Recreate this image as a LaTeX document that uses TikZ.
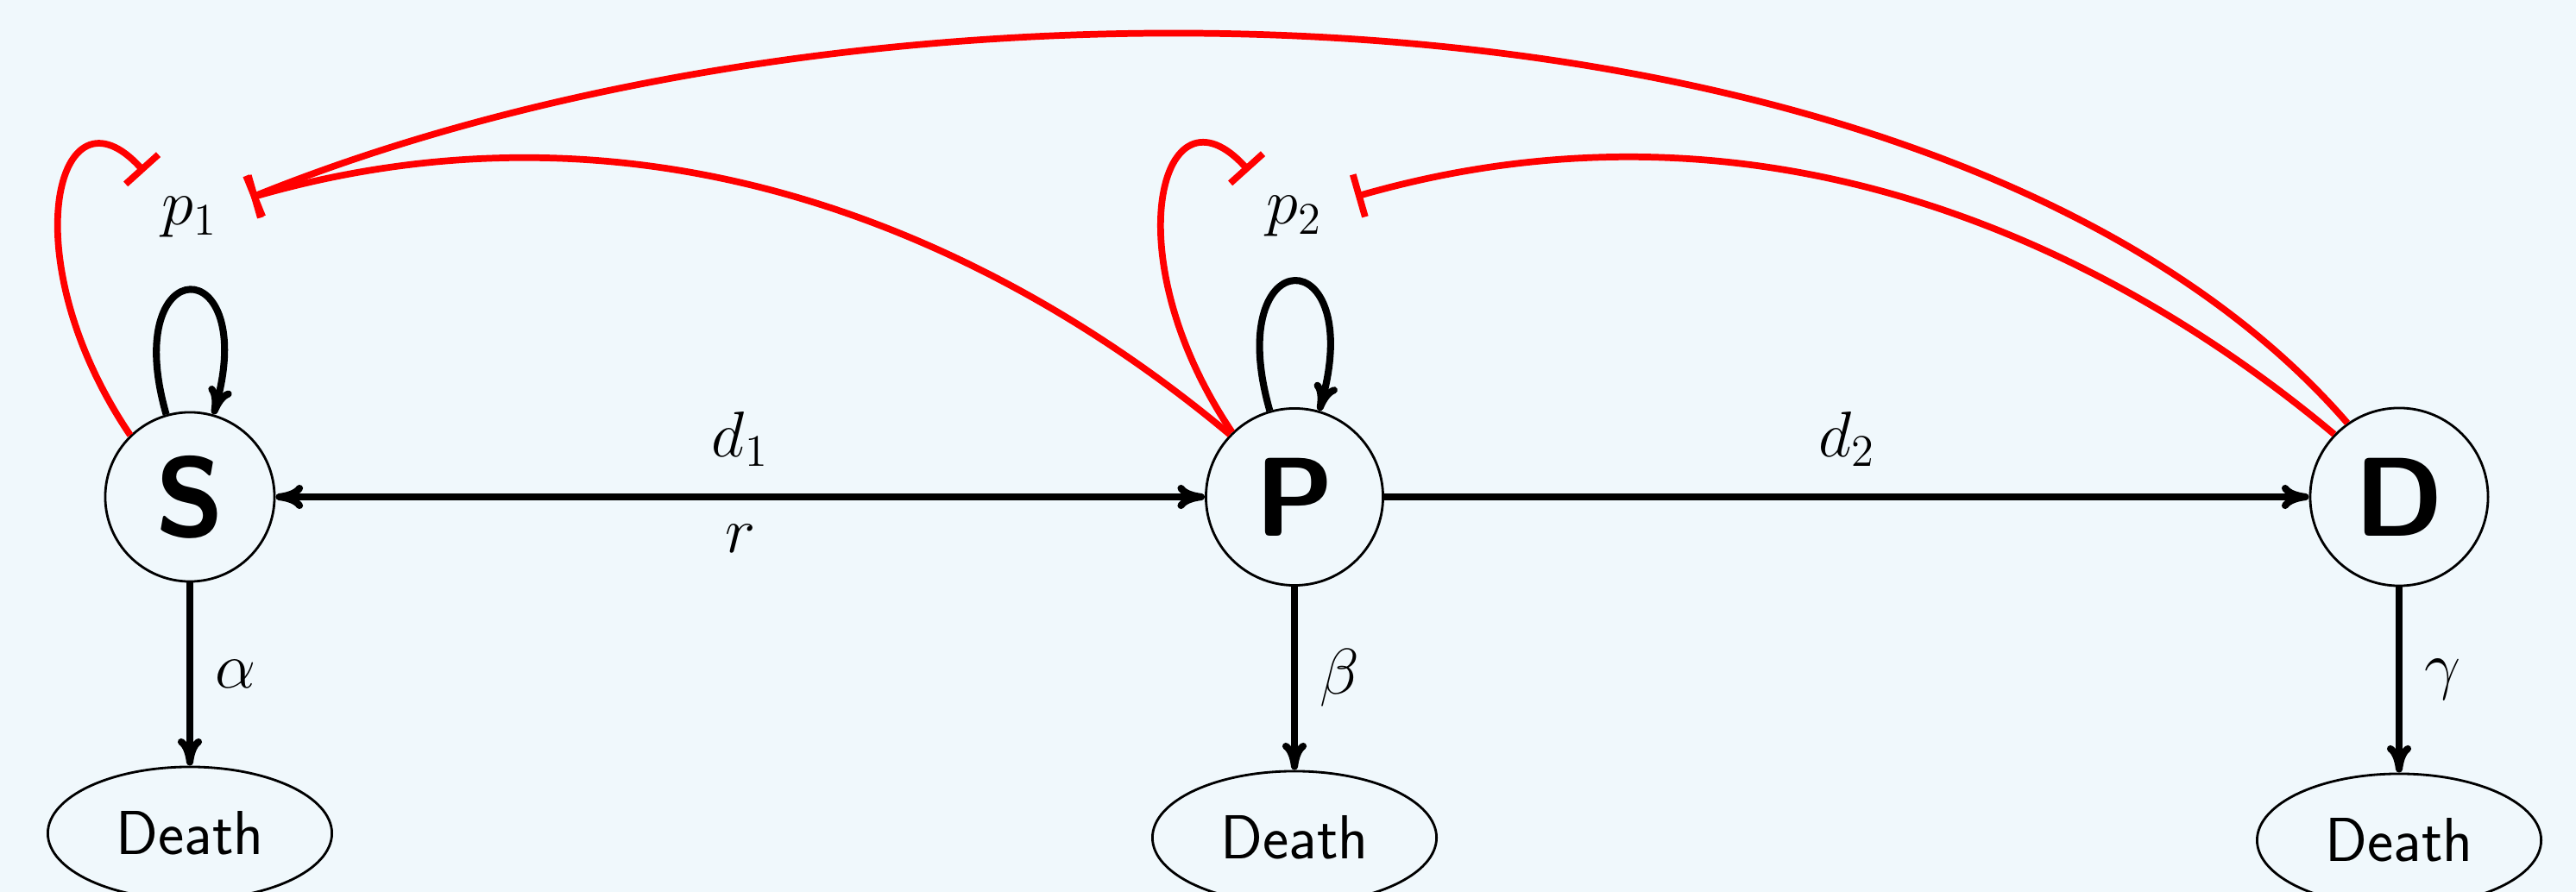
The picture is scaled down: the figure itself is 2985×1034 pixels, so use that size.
\RequirePackage{fix-cm}
\documentclass[tikz,border=0pt]{standalone}
\usetikzlibrary{arrows.meta,shapes.geometric}
\definecolor{bgc}{RGB}{240,248,252}
\definecolor{inh}{RGB}{255,0,0}
\begin{document}
\begin{tikzpicture}[x=0.01cm,y=-0.01cm,
  every node/.style={font=\fontsize{21.3}{25.6}\selectfont},
  state/.style={circle,draw,line width=0.8pt,inner sep=0pt,font=\fontsize{37}{44}\selectfont\sffamily\bfseries},
  sink/.style={ellipse,draw,line width=0.8pt,minimum width=3.29cm,minimum height=1.54cm,inner sep=0pt,font=\fontsize{20.5}{24}\selectfont\sffamily},
  pnode/.style={circle,minimum size=1.48cm,inner sep=0pt},
  edge/.style={line width=2.3pt},
  inhib/.style={line width=2.2pt,draw=inh,-{Bar[width=14.5pt]}},
  >={Computer Modern Rightarrow[length=9pt,width=8pt]}
]
\useasboundingbox (0,0) rectangle (2985,1034);
\fill[bgc] (0,0) rectangle (2985,1034);

% main states
\node[state,minimum size=1.96cm] (S) at (220,576) {S};
\node[state,minimum size=2.05cm] (P) at (1500,576) {P};
\node[state,minimum size=2.06cm] (D) at (2780,576) {D};

% parameter nodes
\node[pnode] (p1) at (220,252) {$p_1$};
\node[pnode] (p2) at (1500,251) {$p_2$};

% death nodes
\node[sink] (dS) at (220,966) {Death};
\node[sink] (dP) at (1500,971) {Death};
\node[sink] (dD) at (2780,974) {Death};

% black transitions
\draw[edge,<->] (S) -- node[above=5.5pt]{$d_1$} node[below=4.8pt]{$r$} (P);
\draw[edge,->] (P) -- node[above=5.5pt]{$d_2$} (D);
\draw[edge,->] (S) -- node[right=4pt]{$\alpha$} (dS);
\draw[edge,->] (P) -- node[right=4pt]{$\beta$} (dP);
\draw[edge,->] (D) -- node[right=4pt]{$\gamma$} (dD);

% self loops
\draw[edge,->] (S.106) .. controls +(-55,-192) and +(55,-192) .. (S.74);
\draw[edge,->] (P.106) .. controls +(-57,-200) and +(57,-200) .. (P.74);

% inhibitions
\draw[inhib] (S.134) .. controls +(-140,-207) and +(-100,-111) .. (p1.135);
\draw[inhib] (P.134) .. controls +(-140,-207) and +(-100,-111) .. (p2.135);
\draw[inhib] (P.136) .. controls +(-253,-212) and +(480,-138) .. (p1.18);
\draw[inhib] (D.136) .. controls +(-253,-212) and +(480,-138) .. (p2.18);
\draw[inhib] (D.125) .. controls +(-459,-529) and +(742,-300) .. (p1.18);
\end{tikzpicture}
\end{document}
